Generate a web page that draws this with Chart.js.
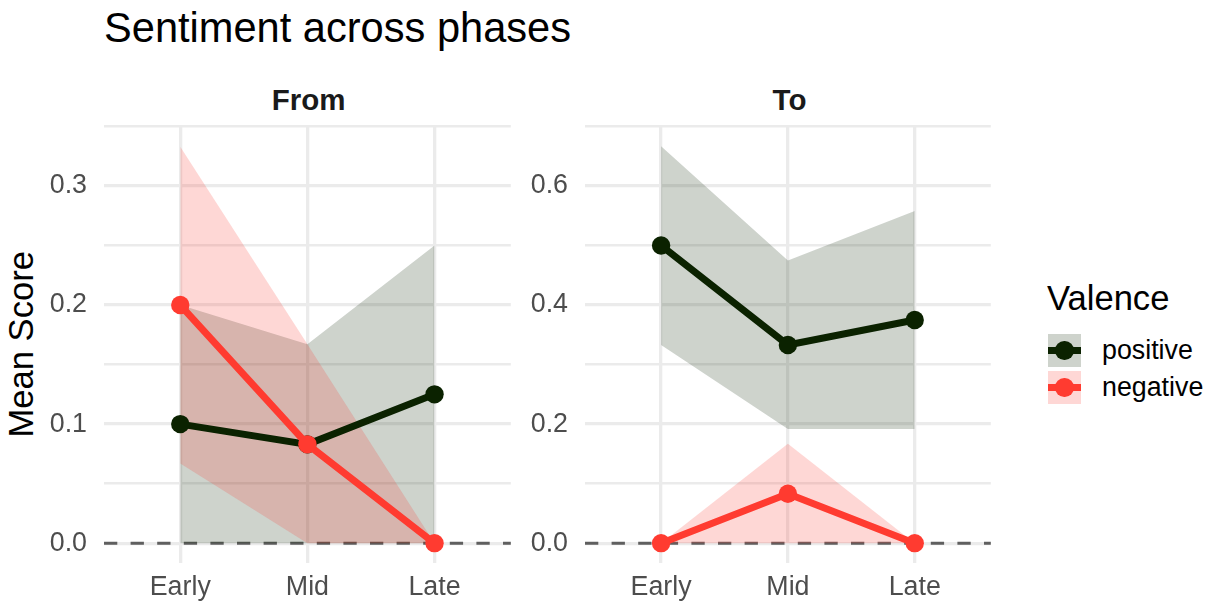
<!DOCTYPE html>
<html>
<head>
<meta charset="utf-8">
<script src="https://cdn.jsdelivr.net/npm/chart.js@4.4.1/dist/chart.umd.min.js"></script>
<style>
  html, body { margin: 0; padding: 0; background: #ffffff; }
  #wrap { position: relative; width: 1211px; height: 606px; overflow: hidden;
          font-family: "Liberation Sans", Arial, Helvetica, sans-serif; }
  #wrap canvas { position: absolute; top: 0; }
  .txt { position: absolute; line-height: 1; white-space: nowrap; }
  #title { left: 104px; top: 6.5px; font-size: 41.6px; color: #000000; }
  .strip { top: 85px; width: 409px; text-align: center; font-size: 29.5px; font-weight: bold; color: #1a1a1a; }
  #ytitle { left: -198.7px; top: 327.4px; width: 440px; text-align: center; font-size: 34.6px; color: #000000;
            transform: rotate(-90deg); transform-origin: 220px 17.3px; }
  #legendTitle { left: 1047px; top: 280.7px; font-size: 34.6px; color: #000000; }
  .key { position: absolute; left: 1048px; width: 33px; height: 33px; }
  .key .ln { position: absolute; left: 0; top: 13px; width: 33px; height: 7px; }
  .key .pt { position: absolute; left: 7.3px; top: 7.3px; width: 18.4px; height: 18.4px; border-radius: 50%; }
  .keyLabel { left: 1102px; font-size: 26.8px; color: #000000; }
</style>
</head>
<body>
<div id="wrap">
  <div id="title" class="txt">Sentiment across phases</div>
  <div id="stripFrom" class="txt strip" style="left:104px">From</div>
  <div id="stripTo" class="txt strip" style="left:585px">To</div>
  <div id="ytitle" class="txt">Mean Score</div>

  <canvas id="chartFrom" width="520" height="606" style="left:0px"></canvas>
  <canvas id="chartTo" width="480" height="606" style="left:520px"></canvas>

  <div id="legendTitle" class="txt">Valence</div>
  <div id="legendItems"></div>
</div>

<script>
// Phases on the x axis
const phases = ['Early', 'Mid', 'Late'];

// "From" panel: mean scores and interval bounds
const fromPositive     = [0.100, 0.083, 0.125];
const fromPositiveLow  = [0.000, 0.000, 0.000];
const fromPositiveHigh = [0.200, 0.167, 0.250];
const fromNegative     = [0.200, 0.083, 0.000];
const fromNegativeLow  = [0.067, 0.000, 0.000];
const fromNegativeHigh = [0.333, 0.167, 0.000];

// "To" panel: mean scores and interval bounds
const toPositive     = [0.500, 0.333, 0.375];
const toPositiveLow  = [0.333, 0.192, 0.192];
const toPositiveHigh = [0.667, 0.475, 0.558];
const toNegative     = [0.000, 0.083, 0.000];
const toNegativeLow  = [0.000, 0.000, 0.000];
const toNegativeHigh = [0.000, 0.167, 0.000];

// Y tick values (grid lines) and the ones that carry labels
const fromTicks  = [0, 0.05, 0.1, 0.15, 0.2, 0.25, 0.3, 0.35];
const fromLabels = [0, 0.1, 0.2, 0.3];
const toTicks    = [0, 0.1, 0.2, 0.3, 0.4, 0.5, 0.6, 0.7];
const toLabels   = [0, 0.2, 0.4, 0.6];

// Series names
const seriesNames = ['positive', 'negative'];

const FONT = '"Liberation Sans", Arial, Helvetica, sans-serif';
const POS_COLOR = '#0b2200';
const NEG_COLOR = '#ff3b30';
const POS_FILL = 'rgba(11, 34, 0, 0.2)';
const NEG_FILL = 'rgba(250, 56, 45, 0.2)';
const GRID = '#ebebeb';

const toXY = arr => arr.map((v, i) => ({ x: i + 1, y: v }));
const near = (a, b) => Math.abs(a - b) < 1e-9;

// Dashed reference line at zero, under the ribbons and lines
const zeroLine = {
  id: 'zeroLine',
  beforeDatasetsDraw(chart) {
    const { ctx, chartArea: a, scales: { y } } = chart;
    const py = y.getPixelForValue(0);
    ctx.save();
    ctx.strokeStyle = '#5f5f5f';
    ctx.lineWidth = 3;
    ctx.setLineDash([13.3, 13.3]);
    ctx.beginPath();
    ctx.moveTo(a.left, py);
    ctx.lineTo(a.right, py);
    ctx.stroke();
    ctx.restore();
  }
};

function ribbon(values, fill, color, order) {
  return {
    data: toXY(values), fill: fill, backgroundColor: color,
    borderWidth: 0, borderColor: 'rgba(0,0,0,0)', pointRadius: 0,
    tension: 0, order: order
  };
}

function line(values, color, order) {
  return {
    data: toXY(values), fill: false, borderColor: color, backgroundColor: color,
    borderWidth: 7, pointRadius: 9.2, pointBackgroundColor: color,
    pointBorderWidth: 0, tension: 0, order: order
  };
}

function panel(canvasId, s, yMin, yMax, ticks, labels, axisWidth, padRight) {
  return new Chart(document.getElementById(canvasId), {
    type: 'line',
    data: {
      datasets: [
        ribbon(s.posHigh, '+1', POS_FILL, 6),
        ribbon(s.posLow, false, 'rgba(0,0,0,0)', 6),
        ribbon(s.negHigh, '+1', NEG_FILL, 5),
        ribbon(s.negLow, false, 'rgba(0,0,0,0)', 5),
        line(s.pos, POS_COLOR, 2),
        line(s.neg, NEG_COLOR, 1)
      ]
    },
    options: {
      responsive: false,
      animation: false,
      devicePixelRatio: 1,
      layout: { padding: { top: 126.5, left: 0, right: padRight, bottom: 0 } },
      plugins: { legend: { display: false }, tooltip: { enabled: false }, title: { display: false } },
      scales: {
        x: {
          type: 'linear', min: 0.4, max: 3.6,
          afterBuildTicks: sc => { sc.ticks = phases.map((p, i) => ({ value: i + 1 })); },
          afterFit: sc => { sc.height = 43; },
          grid: { color: GRID, lineWidth: 3.3, drawTicks: false },
          border: { display: false },
          ticks: {
            padding: 9, color: '#4d4d4d', font: { family: FONT, size: 26.8 },
            callback: v => phases[Math.round(v) - 1]
          }
        },
        y: {
          type: 'linear', min: yMin, max: yMax,
          afterBuildTicks: sc => { sc.ticks = ticks.map(v => ({ value: v })); },
          afterFit: sc => { sc.width = axisWidth; },
          grid: {
            color: GRID, drawTicks: false,
            lineWidth: c => (labels.some(l => near(l, c.tick.value)) || ticks.indexOf(c.tick.value) % 2 === 0 ? 3.3 : 2.6)
          },
          border: { display: false },
          ticks: {
            padding: 17, color: '#4d4d4d', font: { family: FONT, size: 26.8 },
            callback: v => labels.some(l => near(l, v)) ? v.toFixed(1) : ''
          }
        }
      }
    },
    plugins: [zeroLine]
  });
}

panel('chartFrom', {
  pos: fromPositive, posLow: fromPositiveLow, posHigh: fromPositiveHigh,
  neg: fromNegative, negLow: fromNegativeLow, negHigh: fromNegativeHigh
}, -0.35 * 0.05 / 1.05, 0.35, fromTicks, fromLabels, 104, 7);

panel('chartTo', {
  pos: toPositive, posLow: toPositiveLow, posHigh: toPositiveHigh,
  neg: toNegative, negLow: toNegativeLow, negHigh: toNegativeHigh
}, -0.7 * 0.05 / 1.05, 0.7, toTicks, toLabels, 65, 6);

// Legend keys: ribbon fill square with line and point
const legendItems = document.getElementById('legendItems');
const keyStyles = [
  { fill: POS_FILL, color: POS_COLOR, top: 334 },
  { fill: NEG_FILL, color: NEG_COLOR, top: 371 }
];
seriesNames.forEach((name, i) => {
  const k = keyStyles[i];
  const key = document.createElement('div');
  key.className = 'key';
  key.style.top = k.top + 'px';
  key.style.background = k.fill;
  key.innerHTML = '<div class="ln" style="background:' + k.color + '"></div>' +
                  '<div class="pt" style="background:' + k.color + '"></div>';
  legendItems.appendChild(key);
  const lab = document.createElement('div');
  lab.className = 'txt keyLabel';
  lab.style.top = (k.top + 16.5 - 13.4) + 'px';
  lab.textContent = name;
  legendItems.appendChild(lab);
});
</script>
</body>
</html>
